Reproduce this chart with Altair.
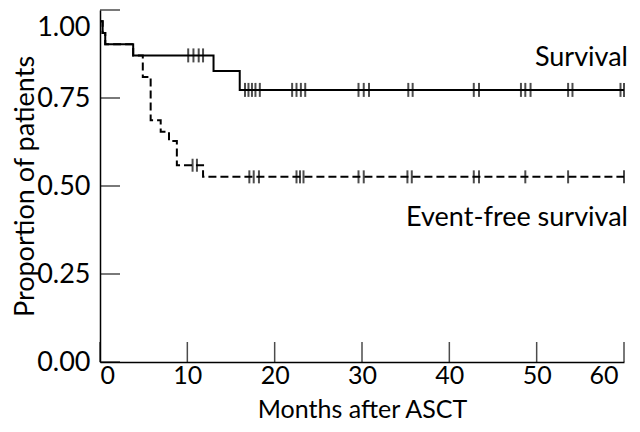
import altair as alt
import pandas as pd

# Kaplan-Meier step curves (time in months, proportion)
surv_times = [0, 0.3, 0.6, 3.8, 13.0, 16.0, 60]
surv_vals = [0.968, 0.935, 0.903, 0.871, 0.827, 0.773, 0.773]

efs_times = [0, 0.3, 0.6, 3.8, 4.9, 5.8, 6.95, 7.9, 8.8, 11.8, 60]
efs_vals = [0.968, 0.935, 0.903, 0.871, 0.81, 0.687, 0.654, 0.628, 0.559, 0.526, 0.526]

# censoring marks
surv_cens_t = [10.1, 10.7, 11.3, 11.8,
               16.6, 17.0, 17.4, 17.8, 18.3,
               22.0, 22.5, 23.0, 23.5,
               29.6, 30.2, 30.8,
               35.3, 35.8,
               42.8, 43.4,
               48.2, 48.7, 49.3,
               53.6, 54.1,
               59.6, 60.0]
surv_cens_p = [0.871] * 4 + [0.773] * 23

efs_cens_t = [10.6, 11.1,
              17.1, 17.6, 18.2,
              22.5, 22.9, 23.3,
              29.6, 30.2,
              35.2, 35.7,
              42.8, 43.4,
              48.7,
              53.6,
              60.0]
efs_cens_p = [0.559] * 2 + [0.526] * 15

x_ticks = [0, 10, 20, 30, 40, 50, 60]
y_ticks = [0, 0.25, 0.5, 0.75, 1.0]

FONT = "Lato"
FS = 27
FS_X = 25
FS_LAB = 27

surv_df = pd.DataFrame({"t": surv_times, "p": surv_vals})
efs_df = pd.DataFrame({"t": efs_times, "p": efs_vals})
surv_c = pd.DataFrame({"t": surv_cens_t, "p": surv_cens_p})
efs_c = pd.DataFrame({"t": efs_cens_t, "p": efs_cens_p})
xt_df = pd.DataFrame({"t": x_ticks, "p": [0] * len(x_ticks)})
yt_df = pd.DataFrame({"t": [0] * len(y_ticks), "p": y_ticks})
lab_s = pd.DataFrame({"t": [surv_times[-1]], "p": [surv_vals[-1]], "label": ["Survival"]})
lab_e = pd.DataFrame({"t": [efs_times[-1]], "p": [efs_vals[-1]], "label": ["Event-free survival"]})

xscale = alt.Scale(domain=[0, 60], nice=False)
yscale = alt.Scale(domain=[0, 1], nice=False)

X = alt.X("t:Q", scale=xscale,
          axis=alt.Axis(title="Months after ASCT", values=x_ticks, format="d",
                        ticks=False, tickSize=0, grid=False, labelPadding=1,
                        labelFontSize=FS_X, titleFontSize=FS_X,
                        labelOffset={"condition": {"test": "datum.value == 60", "value": -6}, "value": 0},
                        domainColor="black", domainWidth=1.5,
                        titleY=55, titleBaseline="alphabetic", titleFontWeight="normal"))
Y = alt.Y("p:Q", scale=yscale,
          axis=alt.Axis(title="Proportion of patients", values=y_ticks, format=".2f",
                        ticks=False, tickSize=0, grid=False, labelPadding=10,
                        labelBaseline={"condition": {"test": "datum.value == 1", "value": "top"}, "value": "middle"},
                        labelOffset={"condition": {"test": "datum.value == 1", "value": 4}, "value": 0},
                        domainColor="black", domainWidth=1.5,
                        titleX=-75, titleY=176, titleBaseline="middle", titleFontWeight="normal"))

surv_line = alt.Chart(surv_df).mark_line(
    interpolate="step-after", color="black", strokeWidth=2
).encode(x=X, y=Y)

efs_line = alt.Chart(efs_df).mark_line(
    interpolate="step-after", color="black", strokeWidth=2, strokeDash=[8, 4]
).encode(x="t:Q", y="p:Q")

surv_ticks = alt.Chart(surv_c).mark_tick(
    orient="vertical", size=14, thickness=2, color="black"
).encode(x="t:Q", y="p:Q")

efs_ticks = alt.Chart(efs_c).mark_tick(
    orient="vertical", size=13, thickness=2, color="black"
).encode(x="t:Q", y="p:Q")

x_axis_ticks = alt.Chart(xt_df).mark_tick(
    orient="vertical", size=20, thickness=1.5, color="black", yOffset=-10
).encode(x="t:Q", y="p:Q")

y_axis_ticks = alt.Chart(yt_df).mark_tick(
    orient="horizontal", size=20, thickness=1.5, color="black", xOffset=10
).encode(x="t:Q", y="p:Q")

text_s = alt.Chart(lab_s).mark_text(
    align="right", baseline="alphabetic", dx=4, dy=-24,
    font=FONT, fontSize=FS_LAB, color="black"
).encode(x="t:Q", y="p:Q", text="label:N")

text_e = alt.Chart(lab_e).mark_text(
    align="right", baseline="alphabetic", dx=4, dy=49,
    font=FONT, fontSize=FS_LAB, color="black"
).encode(x="t:Q", y="p:Q", text="label:N")

chart = alt.layer(
    efs_line, surv_line, surv_ticks, efs_ticks, x_axis_ticks, y_axis_ticks, text_s, text_e
).properties(
    width=524, height=352,
    autosize=alt.AutoSizeParams(type="none"),
    padding={"left": 92, "top": 2, "right": 8, "bottom": 62},
).configure_view(stroke=None).configure_axis(
    labelFont=FONT, labelFontSize=FS, labelColor="black",
    titleFont=FONT, titleFontSize=FS, titleColor="black",
)

chart.save("out.html", embed_options={"renderer": "svg", "actions": False})
